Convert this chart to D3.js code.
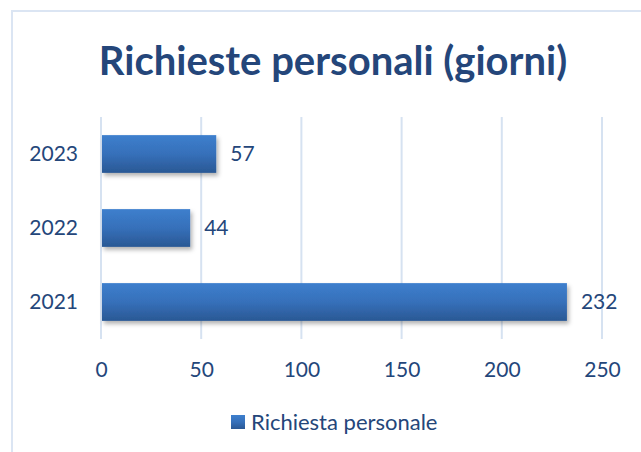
<!DOCTYPE html>
<html>
<head>
<meta charset="utf-8">
<script src="https://cdn.jsdelivr.net/npm/d3@7"></script>
<style>
  body { margin: 0; background: #fff; }
  text { font-family: Lato, "Open Sans", sans-serif; }
</style>
</head>
<body>
<div id="chart"></div>
<script>
// data
const years = ["2023", "2022", "2021"];
const days = [57, 44, 232];
const xTicks = [0, 50, 100, 150, 200, 250];
const seriesName = "Richiesta personale";
const chartTitle = "Richieste personali (giorni)";

const W = 641, H = 452;
const margin = { top: 117, right: 39, bottom: 113, left: 101 },
    width = W - margin.left - margin.right,
    height = H - margin.top - margin.bottom;

const textColor = "#24467a";

const svgRoot = d3.select("#chart")
    .append("svg")
    .attr("width", W)
    .attr("height", H);

const defs = svgRoot.append("defs");
const grad = defs.append("linearGradient")
    .attr("id", "barGrad")
    .attr("x1", 0).attr("y1", 0).attr("x2", 0).attr("y2", 1);
grad.append("stop").attr("offset", "0%").attr("stop-color", "#3d7fcd");
grad.append("stop").attr("offset", "50%").attr("stop-color", "#3670ba");
grad.append("stop").attr("offset", "100%").attr("stop-color", "#2a5894");

const shadow = defs.append("filter").attr("id", "shadow")
    .attr("x", "-10%").attr("y", "-20%").attr("width", "130%").attr("height", "160%");
shadow.append("feDropShadow")
    .attr("dx", 2).attr("dy", 3).attr("stdDeviation", 2)
    .attr("flood-color", "#000").attr("flood-opacity", 0.3);

// outer chart border
svgRoot.append("rect")
    .attr("x", 12).attr("y", 11)
    .attr("width", W).attr("height", H)
    .attr("fill", "none")
    .attr("stroke", "#dbe5f3")
    .attr("stroke-width", 2);

// title
svgRoot.append("text")
    .attr("x", 333).attr("y", 75)
    .attr("text-anchor", "middle")
    .attr("font-size", 40)
    .attr("font-weight", "bold")
    .attr("fill", textColor)
    .text(chartTitle);

const svg = svgRoot.append("g")
    .attr("transform", `translate(${margin.left}, ${margin.top})`);

// X axis
const x = d3.scaleLinear()
    .domain([0, 250])
    .range([0, width]);

// grid
svg.append("g")
    .selectAll("line")
    .data(xTicks)
    .join("line")
    .attr("x1", d => x(d)).attr("x2", d => x(d))
    .attr("y1", 0).attr("y2", height)
    .attr("stroke", "#d6e2f1")
    .attr("stroke-width", 2);

const xAxis = svg.append("g")
    .attr("transform", `translate(0, ${height})`)
    .call(d3.axisBottom(x).tickValues(xTicks).tickSize(0).tickPadding(23));
xAxis.select(".domain").remove();
xAxis.selectAll("text")
    .attr("font-size", 21)
    .attr("font-family", "Lato, sans-serif")
    .attr("fill", textColor);

// Y axis
const y = d3.scaleBand()
    .range([0, height])
    .domain(years)
    .paddingInner(0.49)
    .paddingOuter(0.245);

const yAxis = svg.append("g")
    .call(d3.axisLeft(y).tickSize(0).tickPadding(23));
yAxis.select(".domain").remove();
yAxis.selectAll("text")
    .attr("font-size", 21)
    .attr("font-family", "Lato, sans-serif")
    .attr("fill", textColor);

const rows = years.map((yr, i) => ({ year: yr, value: days[i] }));

// bars
svg.selectAll("rect.bar")
    .data(rows)
    .join("rect")
    .attr("class", "bar")
    .attr("x", x(0) + 1)
    .attr("y", d => y(d.year))
    .attr("width", d => x(d.value) - x(0))
    .attr("height", y.bandwidth())
    .attr("fill", "url(#barGrad)")
    .attr("filter", "url(#shadow)");

// value labels
svg.selectAll("text.val")
    .data(rows)
    .join("text")
    .attr("class", "val")
    .attr("x", d => x(d.value) + 15)
    .attr("y", d => y(d.year) + y.bandwidth() / 2)
    .attr("dy", "0.35em")
    .attr("font-size", 21)
    .attr("fill", textColor)
    .text(d => d.value);

// legend
const legend = svgRoot.append("g").attr("transform", "translate(231, 415)");
legend.append("rect")
    .attr("width", 14).attr("height", 14)
    .attr("fill", "url(#barGrad)");
legend.append("text")
    .attr("x", 20).attr("y", 7)
    .attr("dy", "0.35em")
    .attr("font-size", 22)
    .attr("fill", textColor)
    .text(seriesName);
</script>
</body>
</html>
